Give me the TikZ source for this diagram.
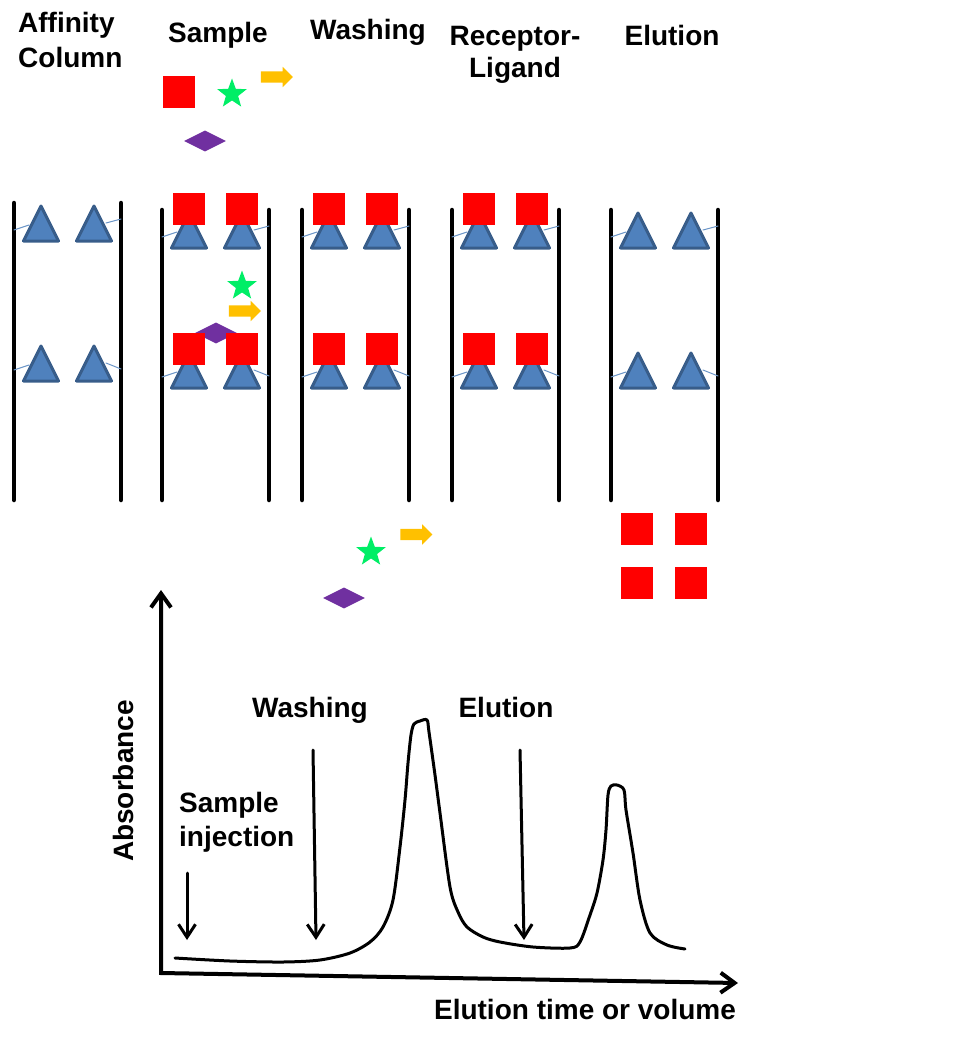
\documentclass[tikz,border=0pt]{standalone}
\usepackage{fontspec}
\setmainfont{Liberation Sans}
\usetikzlibrary{arrows.meta,shapes.geometric,shapes.arrows}
\definecolor{recblue}{HTML}{4F81BD}
\definecolor{recedge}{HTML}{385D8A}
\definecolor{ligred}{HTML}{FF0000}
\definecolor{molgreen}{HTML}{00EE66}
\definecolor{molorange}{HTML}{FFC000}
\definecolor{molpurple}{HTML}{7030A0}
\begin{document}
\begin{tikzpicture}[x=1pt, y=-1pt, line join=round, line cap=round,
	font=\fontsize{28}{33}\selectfont\bfseries,
	lab/.style={anchor=base, inner sep=0pt},
	wall/.style={line width=4.5pt},
	receptor/.style={fill=recblue, draw=recedge, line width=3pt},
	tether/.style={draw=recblue!85, line width=1pt},
	ligand/.style={fill=ligred, minimum size=32pt, inner sep=0pt},
	starmol/.style={star, star points=5, star point ratio=2.4, fill=molgreen, minimum size=31pt, inner sep=0pt},
	rodmol/.style={single arrow, fill=molorange, minimum height=32pt, inner xsep=0pt, inner ysep=5.5pt, single arrow head extend=4.5pt},
	gemmol/.style={diamond, fill=molpurple, minimum width=42pt, minimum height=21pt, inner sep=0pt},
	axis/.style={line width=4pt, line cap=butt, line join=miter, {Straight Barb[length=14pt, width=20pt]}-{Straight Barb[length=14pt, width=20pt]}},
	pointer/.style={line width=3pt, -{Straight Barb[length=13pt, width=17pt]}}]
	\useasboundingbox (0,0) rectangle (975,1038);
	\node[lab, anchor=base west] (tAff) at (18,33) {Affinity};
	\node[lab, anchor=base west] (tCol) at (18,68) {Column};
	\node[lab] (tSam) at (218,43) {Sample};
	\node[lab] (tWas) at (368,40) {Washing};
	\node[lab] (tRec) at (515,46) {Receptor-};
	\node[lab] (tLig) at (515,78) {Ligand};
	\node[lab] (tElu) at (672,46) {Elution};
	\foreach \c/\L/\dy in {1/14/-7, 2/162/0, 3/302/0, 4/452/0, 5/611/0} {
		\draw[wall] (\L,210+\dy) -- (\L,500);
		\draw[wall] (\L+107,210+\dy) -- (\L+107,500);
		\foreach \B/\T in {248/22, 388/12} {
			\draw[tether] (\L,\B+\dy-11) -- (\L+15,\B+\dy-16);
			\draw[tether] (\L+107,\B+\dy-\T) -- (\L+92,\B+\dy-18);
			\foreach \x in {27,80}
				\draw[receptor] (\L+\x-17.5,\B+\dy) -- (\L+\x,\B+\dy-35) -- (\L+\x+17.5,\B+\dy) -- cycle;
		}
	}
	\node[ligand] (free1) at (178.5,92) {};
	\node[starmol] (star1) at (232,94) {};
	\node[rodmol] (rod1) at (274,77) {};
	\node[gemmol] (gem1) at (205,141) {};
	\node[starmol] (star2) at (242,286) {};
	\node[rodmol] (rod2) at (242,311) {};
	\node[gemmol] (gem2) at (216,333) {};
	\node[starmol] (star3) at (371,552) {};
	\node[rodmol] (rod3) at (413.5,534.5) {};
	\node[gemmol] (gem3) at (344,598) {};
	\foreach \c/\L in {2/162, 3/302, 4/452}
		\foreach \r/\B in {1/248, 2/388}
			\foreach \x in {27,80}
				\node[ligand] (bound\c\r\x) at (\L+\x,\B-39) {};
	\foreach \px in {637,691}
		\foreach \py in {529,583}
			\node[ligand] (out\px\py) at (\px,\py) {};
	\coordinate (ytop) at (161,590);
	\coordinate (orig) at (161,973);
	\coordinate (xend) at (738,983);
	\draw[axis] (ytop) -- (orig) -- (xend);
	\node[lab, rotate=90] (absorb) at (133,781) {Absorbance};
	\node[lab] (xlab) at (585,1019) {Elution time or volume};
	\node[lab, anchor=base west] (inj1) at (179,812) {Sample};
	\node[lab, anchor=base west] (inj2) at (179,846) {injection};
	\node[lab] (wlab) at (310,717) {Washing};
	\node[lab] (elab) at (506,717) {Elution};
	\coordinate (injA) at (187,873); \coordinate (injB) at (187,940);
	\coordinate (wasA) at (313,750); \coordinate (wasB) at (316,940);
	\coordinate (eluA) at (520,750); \coordinate (eluB) at (524,940);
	\draw[pointer] (injA) -- (injB);
	\draw[pointer] (wasA) -- (wasB);
	\draw[pointer] (eluA) -- (eluB);
	\draw[line width=3pt] plot[smooth, tension=0.5] coordinates {(175,958) (230,961) (283,962) (320,960) (350,953) (370,942) (383,927) (393,900) (400,847) (405,800) (408,763) (411,735) (414,724) (420,721) (427,720) (429,732) (435,775) (440,813) (450,887) (458,912) (467,927) (483,937) (500,942) (533,947) (570,948) (580,942) (590,915) (597,893) (603,860) (606,830) (608,795) (611,786) (617,785) (624,790) (626,810) (633,853) (640,900) (650,933) (667,945) (685,949)};
\end{tikzpicture}
\end{document}
